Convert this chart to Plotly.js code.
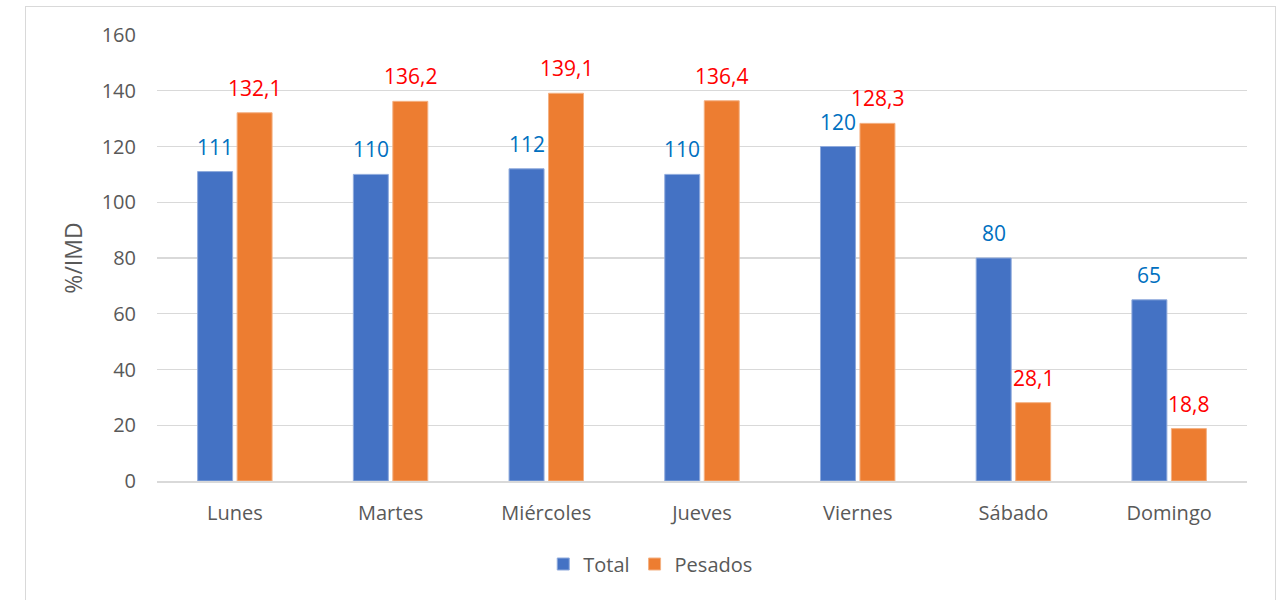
<!DOCTYPE html>
<html>
<head>
<meta charset="utf-8">
<script src="https://cdn.plot.ly/plotly-3.0.1.min.js"></script>
<style>
  html, body { margin: 0; padding: 0; background: #fff; }
  #wrap { position: relative; width: 1281px; height: 600px; }
  #frame { position: absolute; left: 25px; top: 6px; width: 1251px; height: 600px;
           border: 1.5px solid #d9d9d9; box-sizing: border-box; pointer-events: none; }
  #chart { position: absolute; left: 0; top: 0; width: 1281px; height: 600px; }
</style>
</head>
<body>
<div id="wrap">
  <div id="chart"></div>
  <div id="frame"></div>
</div>
<script>
// Daily traffic as a percentage of the average daily volume (IMD)
const days = ['Lunes', 'Martes', 'Miércoles', 'Jueves', 'Viernes', 'Sábado', 'Domingo'];
const total = [111, 110, 112, 110, 120, 80, 65];
const pesados = [132.1, 136.2, 139.1, 136.4, 128.3, 28.1, 18.8];

const FONT = 'Open Sans, sans-serif';
const BLUE = '#4472C4';
const ORANGE = '#ED7D31';

const traces = [
  {
    type: 'bar', name: 'Total', x: days, y: total,
    marker: { color: BLUE, line: { color: '#8faadc', width: 1 } }
  },
  {
    type: 'bar', name: 'Pesados', x: days, y: pesados,
    marker: { color: ORANGE, line: { color: '#f4b183', width: 1 } }
  }
];

// Value labels above each bar, offset horizontally to sit over its own bar
const SLOT = 39.5;
const annotations = [];
days.forEach((d, i) => {
  annotations.push({
    x: d, y: total[i], xref: 'x', yref: 'y', text: String(total[i]),
    showarrow: false, yanchor: 'bottom', xshift: -SLOT / 2, yshift: 9,
    font: { family: FONT, size: 21, color: '#0070C0' }
  });
  annotations.push({
    x: d, y: pesados[i], xref: 'x', yref: 'y', text: pesados[i].toFixed(1).replace('.', ','),
    showarrow: false, yanchor: 'bottom', xshift: SLOT / 2, yshift: 9,
    font: { family: FONT, size: 21, color: '#FF0000' }
  });
});

const layout = {
  width: 1281, height: 600,
  margin: { l: 157, r: 34, t: 35, b: 119, pad: 0 },
  paper_bgcolor: '#ffffff', plot_bgcolor: '#ffffff',
  barmode: 'group', bargap: 0.493, bargroupgap: 0.114,
  separators: ',.',
  font: { family: FONT, size: 20, color: '#595959' },
  xaxis: {
    type: 'category', showgrid: false, zeroline: false,
    showline: true, linecolor: '#d9d9d9', linewidth: 1.5,
    ticks: '', ticklabelstandoff: 13,
    tickfont: { family: FONT, size: 20, color: '#595959' }
  },
  yaxis: {
    range: [0, 160], dtick: 20, tick0: 0,
    showgrid: true, gridcolor: '#d9d9d9', gridwidth: 1.2,
    zeroline: false, showline: false, ticks: '', ticklabelstandoff: 20,
    tickfont: { family: FONT, size: 20, color: '#595959' },
    title: { text: '%/IMD', standoff: 12, font: { family: FONT, size: 23, color: '#595959' } }
  },
  legend: {
    orientation: 'h', xref: 'container', yref: 'container',
    x: 0.508, xanchor: 'center', y: 0.06, yanchor: 'middle',
    font: { family: FONT, size: 20, color: '#595959' },
    itemwidth: 30, traceorder: 'normal'
  },
  annotations: annotations,
  showlegend: true
};

Plotly.newPlot('chart', traces, layout, { displayModeBar: false, staticPlot: true });
</script>
</body>
</html>
